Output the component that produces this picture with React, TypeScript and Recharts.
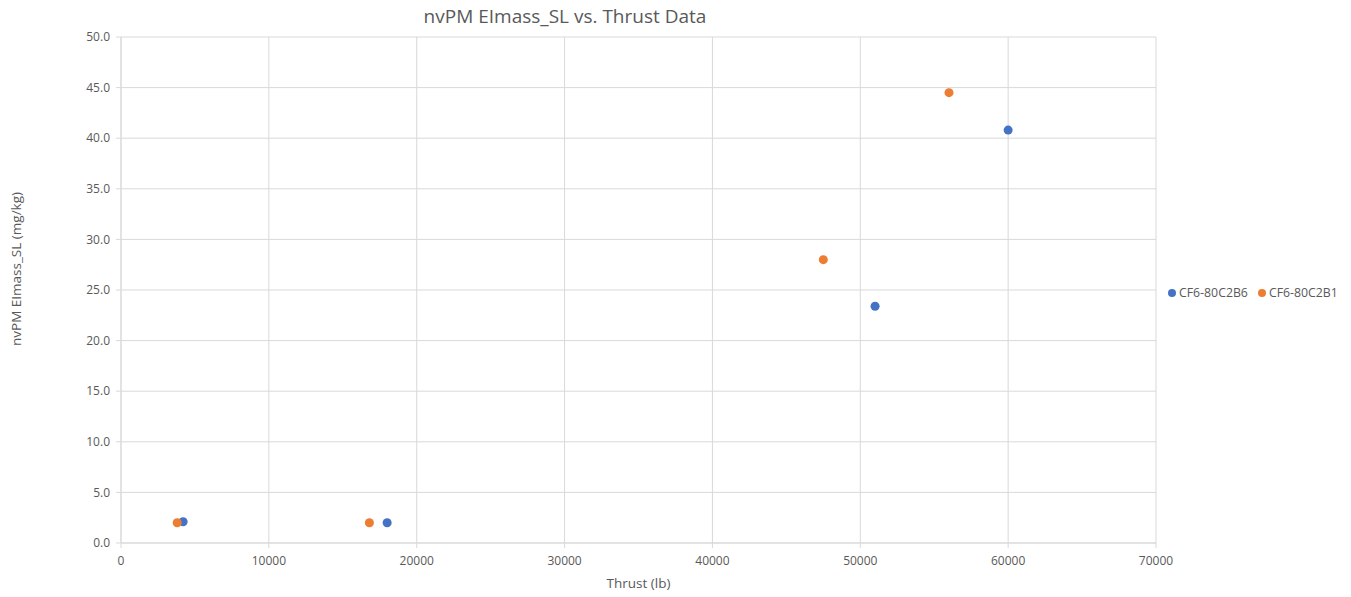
import React from "react";
import {
  ScatterChart,
  Scatter,
  XAxis,
  YAxis,
  CartesianGrid,
  Legend,
} from "recharts";

// Thrust (lb) and nvPM EImass_SL (mg/kg) per engine
const seriesNames = ["CF6-80C2B6", "CF6-80C2B1"];
const seriesColors = ["#4472C4", "#ED7D31"];
const b6Thrust = [4200, 18000, 51000, 60000];
const b6EImass = [2.1, 2.0, 23.4, 40.8];
const b1Thrust = [3800, 16800, 47500, 56000];
const b1EImass = [2.0, 2.0, 28.0, 44.5];

const xTicks = [0, 10000, 20000, 30000, 40000, 50000, 60000, 70000];
const yTicks = [0, 5, 10, 15, 20, 25, 30, 35, 40, 45, 50];

const b6Data = b6Thrust.map((x, i) => ({ x, y: b6EImass[i] }));
const b1Data = b1Thrust.map((x, i) => ({ x, y: b1EImass[i] }));

const FONT = "'Open Sans', 'Liberation Sans', sans-serif";
const TEXT = "#595959";
const GRID = "#d9d9d9";

const YLabel = (props: any) => {
  const vb = props.viewBox || {};
  const cx = vb.x + 16;
  const cy = vb.y + vb.height / 2 - 21;
  return (
    <text
      x={cx}
      y={cy}
      transform={`rotate(-90, ${cx}, ${cy})`}
      textAnchor="middle"
      dominantBaseline="central"
      fontSize={13.5}
      fontFamily={FONT}
      fill={TEXT}
    >
      nvPM EImass_SL (mg/kg)
    </text>
  );
};

const LegendContent = (props: any) => {
  const payload: any[] = props.payload || [];
  const ordered = seriesNames
    .map((n) => payload.find((p) => p.value === n))
    .filter(Boolean);
  return (
    <div style={{ display: "flex", alignItems: "center", whiteSpace: "nowrap" }}>
      {ordered.map((p: any, i: number) => (
        <div
          key={p.value}
          style={{ display: "flex", alignItems: "center", marginRight: i === 0 ? 10 : 0 }}
        >
          <svg width={8} height={8} style={{ marginRight: 3 }}>
            <circle cx={4} cy={4} r={4} fill={p.color} />
          </svg>
          <span style={{ color: TEXT, fontSize: 12.3, fontFamily: FONT }}>{p.value}</span>
        </div>
      ))}
    </div>
  );
};

export default function App() {
  return (
    <div
      style={{
        position: "absolute",
        left: 0,
        top: 0,
        width: 1351,
        height: 597,
        background: "#ffffff",
        fontFamily: FONT,
      }}
    >
      <div
        style={{
          position: "absolute",
          left: 365,
          top: 3,
          width: 400,
          textAlign: "center",
          fontSize: 19,
          color: TEXT,
          fontFamily: FONT,
          zIndex: 2,
        }}
      >
        nvPM EImass_SL vs. Thrust Data
      </div>
      <ScatterChart
        width={1351}
        height={597}
        margin={{ top: 37, right: 5, bottom: 24, left: 0 }}
      >
        <CartesianGrid stroke={GRID} strokeWidth={1} />
        <XAxis
          type="number"
          dataKey="x"
          domain={[0, 70000]}
          ticks={xTicks}
          interval={0}
          height={30}
          stroke={GRID}
          tickSize={5}
          tickMargin={8}
          tick={{ fill: TEXT, fontSize: 12, fontFamily: FONT }}
          label={{
            value: "Thrust (lb)",
            position: "insideBottom",
            offset: -15,
            fill: TEXT,
            fontSize: 13.5,
            fontFamily: FONT,
          }}
        />
        <YAxis
          type="number"
          dataKey="y"
          domain={[0, 50]}
          ticks={yTicks}
          interval={0}
          width={121}
          stroke={GRID}
          tickSize={5}
          tickMargin={6}
          tickFormatter={(v: number) => v.toFixed(1)}
          tick={{ fill: TEXT, fontSize: 12, fontFamily: FONT }}
          label={<YLabel />}
        />
        <Legend
          layout="horizontal"
          align="right"
          verticalAlign="middle"
          content={<LegendContent />}
          wrapperStyle={{
            position: "absolute",
            left: 1168,
            top: 284,
            width: 190,
          }}
        />
        <Scatter
          name={seriesNames[0]}
          data={b6Data}
          fill={seriesColors[0]}
          shape="circle"
          isAnimationActive={false}
        />
        <Scatter
          name={seriesNames[1]}
          data={b1Data}
          fill={seriesColors[1]}
          shape="circle"
          isAnimationActive={false}
        />
      </ScatterChart>
    </div>
  );
}
